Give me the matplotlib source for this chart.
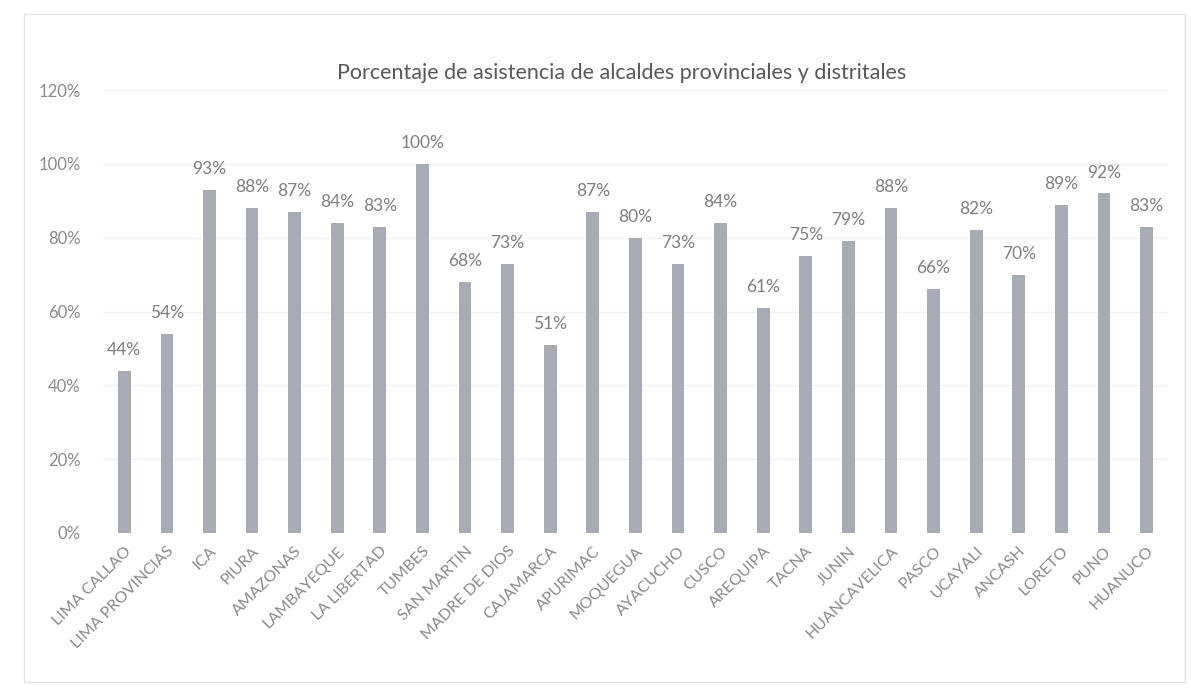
import matplotlib
matplotlib.use("Agg")
import matplotlib.pyplot as plt
from matplotlib.patches import Rectangle

regiones = ["LIMA CALLAO", "LIMA PROVINCIAS", "ICA", "PIURA", "AMAZONAS",
            "LAMBAYEQUE", "LA LIBERTAD", "TUMBES", "SAN MARTIN", "MADRE DE DIOS",
            "CAJAMARCA", "APURIMAC", "MOQUEGUA", "AYACUCHO", "CUSCO",
            "AREQUIPA", "TACNA", "JUNIN", "HUANCAVELICA", "PASCO",
            "UCAYALI", "ANCASH", "LORETO", "PUNO", "HUANUCO"]
asistencia = [44, 54, 93, 88, 87, 84, 83, 100, 68, 73, 51, 87, 80, 73, 84,
              61, 75, 79, 88, 66, 82, 70, 89, 92, 83]
ticks_y = [0, 20, 40, 60, 80, 100, 120]

plt.rcParams['font.family'] = ['Lato', 'DejaVu Sans']

fig = plt.figure(figsize=(11.91, 6.92), dpi=100)
ax = fig.add_axes([0.0865, 0.2298, 0.894, 0.640])

# marco claro alrededor del grafico
fig.patches.append(Rectangle((0.02, 0.015), 0.975, 0.965, transform=fig.transFigure,
                             fill=False, edgecolor="#e4e4e4", linewidth=1))

x = range(len(regiones))
ax.bar(x, asistencia, width=0.3, color="#a9abb4", zorder=2)

for i, v in zip(x, asistencia):
    ax.text(i, v + 3.5, f"{v}%", ha="center", va="bottom", fontsize=12.5, color="#7f7f7f")

ax.set_xlim(-0.5, len(regiones) - 0.5)
ax.set_ylim(0, 120)
ax.set_yticks(ticks_y)
ax.set_yticklabels([f"{t}%" for t in ticks_y], fontsize=12, color="#8a8a8a")
ax.set_xticks(list(x))
ax.set_xticklabels(regiones, rotation=45, ha="right", rotation_mode="anchor",
                   fontsize=11.5, color="#8a8a8a")
ax.tick_params(axis="both", length=0)
ax.tick_params(axis="y", pad=16)
ax.tick_params(axis="x", pad=8)
ax.grid(axis="y", color="#f2f2f2", linewidth=1, zorder=0)
for s in ax.spines.values():
    s.set_visible(False)

fig.text(0.522, 0.895, "Porcentaje de asistencia de alcaldes provinciales y distritales",
         ha="center", va="center", fontsize=15.5, color="#595959")

fig.savefig("out.png", dpi=100)
